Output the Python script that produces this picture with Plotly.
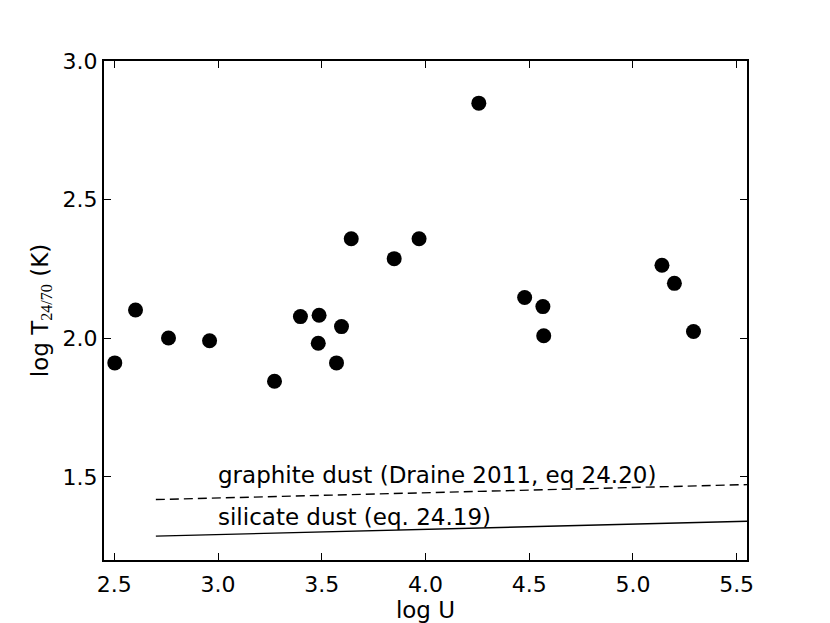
import plotly.graph_objects as go

# measured points
log_u = [2.502, 2.602, 2.761, 2.959, 3.272, 3.397, 3.487, 3.483, 3.595, 3.571,
         3.642, 3.849, 3.969, 4.257, 4.478, 4.566, 4.570, 5.140, 5.200, 5.292]
log_t = [1.911, 2.102, 2.001, 1.991, 1.845, 2.078, 2.083, 1.982, 2.042, 1.911,
         2.359, 2.287, 2.359, 2.848, 2.147, 2.114, 2.009, 2.263, 2.198, 2.024]

# model curves (endpoints)
model_u = [2.7, 5.55]
graphite_t = [1.418, 1.472]
silicate_t = [1.286, 1.340]

FONT = "DejaVu Sans"
FS = 23

fig = go.Figure()
fig.add_trace(go.Scatter(x=model_u, y=graphite_t, mode="lines",
                         line=dict(color="black", width=1.4, dash="9px,5px")))
fig.add_trace(go.Scatter(x=model_u, y=silicate_t, mode="lines",
                         line=dict(color="black", width=1.4)))
fig.add_trace(go.Scatter(x=log_u, y=log_t, mode="markers",
                         marker=dict(color="black", size=15)))

fig.add_annotation(x=2.99, y=1.507, text="graphite dust (Draine 2011, eq 24.20)",
                   showarrow=False, xanchor="left", yanchor="middle",
                   font=dict(size=FS, color="black"))
fig.add_annotation(x=2.99, y=1.354, text="silicate dust (eq. 24.19)",
                   showarrow=False, xanchor="left", yanchor="middle",
                   font=dict(size=FS, color="black"))

axis = dict(showgrid=False, zeroline=False, showline=True, linecolor="black",
            linewidth=2, mirror="ticks", ticks="inside", ticklen=7,
            tickcolor="black", tickwidth=1, tickfont=dict(size=22, color="black"))

fig.update_xaxes(axis, range=[2.45, 5.55], tickvals=[2.5, 3.0, 3.5, 4.0, 4.5, 5.0, 5.5],
                 tickformat=".1f", ticklabelstandoff=4,
                 title=dict(text="log U", font=dict(size=FS, color="black"), standoff=1))
fig.update_yaxes(axis, range=[1.2, 3.0], tickvals=[1.5, 2.0, 2.5, 3.0], tickformat=".1f",
                 title=dict(text='log T<sub><span style="font-family:Liberation Serif">24/70</span></sub> (K)',
                            font=dict(size=FS, color="black"), standoff=8))

fig.update_layout(width=830, height=623, showlegend=False,
                  plot_bgcolor="white", paper_bgcolor="white",
                  font=dict(family=FONT, color="black"),
                  margin=dict(l=96, r=91, t=53, b=71))

fig.write_html("out.html")
